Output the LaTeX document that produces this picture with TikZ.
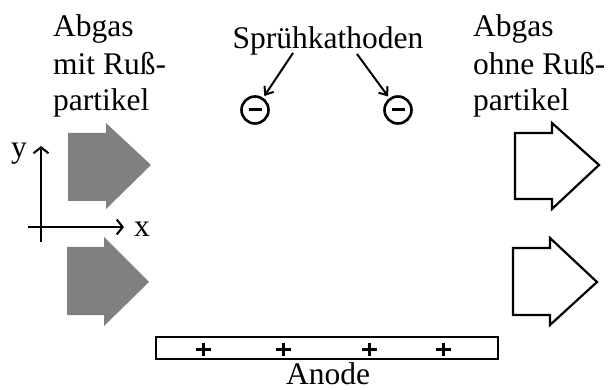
\documentclass[tikz,border=0pt]{standalone}
\usepackage{fontspec}
\setmainfont{Liberation Serif}
\usetikzlibrary{arrows.meta}
\tikzset{
  txt/.style={inner sep=0pt, font=\fontsize{31.5}{37}\selectfont},
  grayarrow/.style={fill={rgb,255:red,128;green,128;blue,128}, draw=none},
  whitearrow/.style={fill=white, draw=black, line width=2.2pt, line join=miter},
  axis/.style={line width=2pt, -{Straight Barb[length=6pt,width=15pt,line width=2pt]}},
  kath/.style={circle, draw, line width=2.6pt, minimum size=27pt, inner sep=0pt,
    path picture={\draw[line width=3pt] ([xshift=-6.5pt]path picture bounding box.center) -- ([xshift=6.5pt]path picture bounding box.center);}},
  kathar/.style={line width=2pt, -{Straight Barb[length=7pt,width=11pt,line width=2pt]}, shorten >=2pt},
  anodebox/.style={draw, line width=2.2pt, minimum width=342pt, minimum height=22pt, inner sep=0pt},
  plus/.style={line width=3pt}
}
\begin{document}
\begin{tikzpicture}[x=1pt,y=-1pt]
\useasboundingbox[fill=white] (0,0) rectangle (608,390);

% left text
\node[txt, anchor=base west] (l1) at (53,37) {Abgas};
\node[txt, anchor=base west] (l2) at (53,75) {mit Ruß-};
\node[txt, anchor=base west] (l3) at (53,111) {partikel};
% right text
\node[txt, anchor=base west] (r1) at (473,37) {Abgas};
\node[txt, anchor=base west] (r2) at (473,75) {ohne Ruß-};
\node[txt, anchor=base west] (r3) at (473,111) {partikel};
% Sprühkathoden
\node[txt, anchor=base] (spr) at (328,49) {Sprühkathoden};
\coordinate (k1s) at (293,53);
\coordinate (k2s) at (357,54);
\node[kath] (c1) at (255,110) {};
\node[kath] (c2) at (398,110) {};
\draw[kathar] (k1s) -- (c1);
\draw[kathar] (k2s) -- (c2);

% gray arrows
\path[grayarrow] (68,133) -- (106,133) -- (106,123) -- (151,165) -- (106,209) -- (106,201) -- (68,201) -- cycle;
\path[grayarrow] (67,247) -- (104,247) -- (104,237) -- (149,282) -- (104,326) -- (104,315) -- (67,315) -- cycle;
% white arrows
\draw[whitearrow] (515,133) -- (552,133) -- (552,123) -- (599,165) -- (552,209) -- (552,199) -- (515,199) -- cycle;
\draw[whitearrow] (513,248) -- (550,248) -- (550,238) -- (597,282) -- (550,325) -- (550,315) -- (513,315) -- cycle;

% axes
\coordinate (xa) at (28,227);
\coordinate (xb) at (124,227);
\coordinate (ya) at (41,242);
\coordinate (yb) at (41,146);
\draw[axis] (xa) -- (xb);
\draw[axis] (ya) -- (yb);
\node[txt, anchor=base] (xl) at (142,237) {x};
\node[txt, anchor=base] (yl) at (19,158) {y};

% anode
\node[anodebox] (anode) at (327,348) {};
\foreach \px in {203,283,369,443}{
  \draw[plus] (\px-7.5,349) -- (\px+7.5,349);
  \draw[plus] (\px,342.5) -- (\px,355.5);
}
\node[txt, anchor=base] (anl) at (328,384) {Anode};
\end{tikzpicture}
\end{document}
